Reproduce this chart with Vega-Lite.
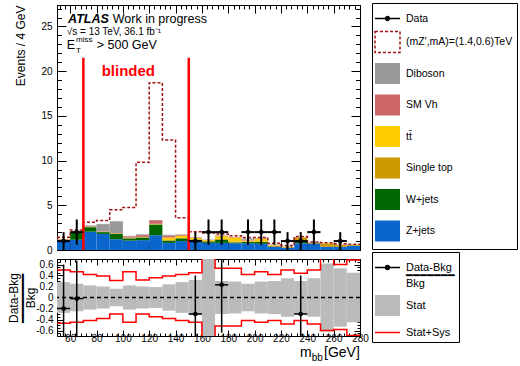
{
  "$schema": "https://vega.github.io/schema/vega-lite/v6.json",
  "background": "white",
  "padding": {"left": 7, "top": 2, "right": 0, "bottom": 0},
  "spacing": -5,
  "datasets": {
    "bkg": [
      {"lo":50,"hi":60,"p":"Z+jets","y0":0,"y1":1.00},{"lo":50,"hi":60,"p":"W+jets","y0":1.00,"y1":1.12},{"lo":50,"hi":60,"p":"Single top","y0":1.12,"y1":1.15},{"lo":50,"hi":60,"p":"tt̄","y0":1.15,"y1":1.18},{"lo":50,"hi":60,"p":"SM Vh","y0":1.18,"y1":1.23},{"lo":50,"hi":60,"p":"Diboson","y0":1.23,"y1":1.25},
      {"lo":60,"hi":70,"p":"Z+jets","y0":0,"y1":1.15},{"lo":60,"hi":70,"p":"W+jets","y0":1.15,"y1":1.93},{"lo":60,"hi":70,"p":"Single top","y0":1.93,"y1":1.95},{"lo":60,"hi":70,"p":"tt̄","y0":1.95,"y1":1.98},{"lo":60,"hi":70,"p":"SM Vh","y0":1.98,"y1":2.02},{"lo":60,"hi":70,"p":"Diboson","y0":2.02,"y1":2.04},
      {"lo":70,"hi":80,"p":"Z+jets","y0":0,"y1":2.05},{"lo":70,"hi":80,"p":"W+jets","y0":2.05,"y1":2.55},{"lo":70,"hi":80,"p":"Single top","y0":2.55,"y1":2.57},{"lo":70,"hi":80,"p":"tt̄","y0":2.57,"y1":2.59},{"lo":70,"hi":80,"p":"SM Vh","y0":2.59,"y1":2.65},{"lo":70,"hi":80,"p":"Diboson","y0":2.65,"y1":2.75},
      {"lo":80,"hi":90,"p":"Z+jets","y0":0,"y1":1.80},{"lo":80,"hi":90,"p":"W+jets","y0":1.80,"y1":2.00},{"lo":80,"hi":90,"p":"Single top","y0":2.00,"y1":2.02},{"lo":80,"hi":90,"p":"tt̄","y0":2.02,"y1":2.05},{"lo":80,"hi":90,"p":"SM Vh","y0":2.05,"y1":2.10},{"lo":80,"hi":90,"p":"Diboson","y0":2.10,"y1":2.90},
      {"lo":90,"hi":100,"p":"Z+jets","y0":0,"y1":1.20},{"lo":90,"hi":100,"p":"W+jets","y0":1.20,"y1":1.82},{"lo":90,"hi":100,"p":"Single top","y0":1.82,"y1":1.84},{"lo":90,"hi":100,"p":"tt̄","y0":1.84,"y1":1.86},{"lo":90,"hi":100,"p":"SM Vh","y0":1.86,"y1":1.91},{"lo":90,"hi":100,"p":"Diboson","y0":1.91,"y1":3.21},
      {"lo":100,"hi":110,"p":"Z+jets","y0":0,"y1":1.05},{"lo":100,"hi":110,"p":"W+jets","y0":1.05,"y1":1.30},{"lo":100,"hi":110,"p":"Single top","y0":1.30,"y1":1.33},{"lo":100,"hi":110,"p":"tt̄","y0":1.33,"y1":1.38},{"lo":100,"hi":110,"p":"SM Vh","y0":1.38,"y1":1.53},{"lo":100,"hi":110,"p":"Diboson","y0":1.53,"y1":1.58},
      {"lo":110,"hi":120,"p":"Z+jets","y0":0,"y1":1.10},{"lo":110,"hi":120,"p":"W+jets","y0":1.10,"y1":1.40},{"lo":110,"hi":120,"p":"Single top","y0":1.40,"y1":1.42},{"lo":110,"hi":120,"p":"tt̄","y0":1.42,"y1":1.47},{"lo":110,"hi":120,"p":"SM Vh","y0":1.47,"y1":1.67},{"lo":110,"hi":120,"p":"Diboson","y0":1.67,"y1":1.75},
      {"lo":120,"hi":130,"p":"Z+jets","y0":0,"y1":1.65},{"lo":120,"hi":130,"p":"W+jets","y0":1.65,"y1":2.85},{"lo":120,"hi":130,"p":"Single top","y0":2.85,"y1":2.88},{"lo":120,"hi":130,"p":"tt̄","y0":2.88,"y1":2.93},{"lo":120,"hi":130,"p":"SM Vh","y0":2.93,"y1":3.33},{"lo":120,"hi":130,"p":"Diboson","y0":3.33,"y1":3.35},
      {"lo":130,"hi":140,"p":"Z+jets","y0":0,"y1":0.80},{"lo":130,"hi":140,"p":"W+jets","y0":0.80,"y1":1.05},{"lo":130,"hi":140,"p":"Single top","y0":1.05,"y1":1.10},{"lo":130,"hi":140,"p":"tt̄","y0":1.10,"y1":1.40},{"lo":130,"hi":140,"p":"SM Vh","y0":1.40,"y1":1.60},{"lo":130,"hi":140,"p":"Diboson","y0":1.60,"y1":1.70},
      {"lo":140,"hi":150,"p":"Z+jets","y0":0,"y1":1.00},{"lo":140,"hi":150,"p":"W+jets","y0":1.00,"y1":1.30},{"lo":140,"hi":150,"p":"Single top","y0":1.30,"y1":1.35},{"lo":140,"hi":150,"p":"tt̄","y0":1.35,"y1":1.60},{"lo":140,"hi":150,"p":"SM Vh","y0":1.60,"y1":1.70},{"lo":140,"hi":150,"p":"Diboson","y0":1.70,"y1":1.75},
      {"lo":150,"hi":160,"p":"Z+jets","y0":0,"y1":0.95},{"lo":150,"hi":160,"p":"W+jets","y0":0.95,"y1":1.15},{"lo":150,"hi":160,"p":"Single top","y0":1.15,"y1":1.20},{"lo":150,"hi":160,"p":"tt̄","y0":1.20,"y1":1.35},{"lo":150,"hi":160,"p":"SM Vh","y0":1.35,"y1":1.40},{"lo":150,"hi":160,"p":"Diboson","y0":1.40,"y1":1.43},
      {"lo":160,"hi":170,"p":"Z+jets","y0":0,"y1":0.80},{"lo":160,"hi":170,"p":"W+jets","y0":0.80,"y1":0.95},{"lo":160,"hi":170,"p":"Single top","y0":0.95,"y1":1.00},{"lo":160,"hi":170,"p":"tt̄","y0":1.00,"y1":1.10},{"lo":160,"hi":170,"p":"SM Vh","y0":1.10,"y1":1.15},{"lo":160,"hi":170,"p":"Diboson","y0":1.15,"y1":1.17},
      {"lo":170,"hi":180,"p":"Z+jets","y0":0,"y1":0.80},{"lo":170,"hi":180,"p":"W+jets","y0":0.80,"y1":1.15},{"lo":170,"hi":180,"p":"Single top","y0":1.15,"y1":1.25},{"lo":170,"hi":180,"p":"tt̄","y0":1.25,"y1":1.55},{"lo":170,"hi":180,"p":"SM Vh","y0":1.55,"y1":1.60},{"lo":170,"hi":180,"p":"Diboson","y0":1.60,"y1":1.63},
      {"lo":180,"hi":190,"p":"Z+jets","y0":0,"y1":0.75},{"lo":180,"hi":190,"p":"W+jets","y0":0.75,"y1":0.85},{"lo":180,"hi":190,"p":"Single top","y0":0.85,"y1":0.95},{"lo":180,"hi":190,"p":"tt̄","y0":0.95,"y1":1.40},{"lo":180,"hi":190,"p":"SM Vh","y0":1.40,"y1":1.45},{"lo":180,"hi":190,"p":"Diboson","y0":1.45,"y1":1.47},
      {"lo":190,"hi":200,"p":"Z+jets","y0":0,"y1":0.75},{"lo":190,"hi":200,"p":"W+jets","y0":0.75,"y1":0.90},{"lo":190,"hi":200,"p":"Single top","y0":0.90,"y1":0.95},{"lo":190,"hi":200,"p":"tt̄","y0":0.95,"y1":1.05},{"lo":190,"hi":200,"p":"SM Vh","y0":1.05,"y1":1.15},{"lo":190,"hi":200,"p":"Diboson","y0":1.15,"y1":1.30},
      {"lo":200,"hi":210,"p":"Z+jets","y0":0,"y1":0.70},{"lo":200,"hi":210,"p":"W+jets","y0":0.70,"y1":0.90},{"lo":200,"hi":210,"p":"Single top","y0":0.90,"y1":0.95},{"lo":200,"hi":210,"p":"tt̄","y0":0.95,"y1":1.25},{"lo":200,"hi":210,"p":"SM Vh","y0":1.25,"y1":1.30},{"lo":200,"hi":210,"p":"Diboson","y0":1.30,"y1":1.32},
      {"lo":210,"hi":220,"p":"Z+jets","y0":0,"y1":0.35},{"lo":210,"hi":220,"p":"W+jets","y0":0.35,"y1":0.40},{"lo":210,"hi":220,"p":"Single top","y0":0.40,"y1":0.50},{"lo":210,"hi":220,"p":"tt̄","y0":0.50,"y1":0.55},{"lo":210,"hi":220,"p":"SM Vh","y0":0.55,"y1":0.60},{"lo":210,"hi":220,"p":"Diboson","y0":0.60,"y1":0.62},
      {"lo":220,"hi":230,"p":"Z+jets","y0":0,"y1":0.25},{"lo":220,"hi":230,"p":"W+jets","y0":0.25,"y1":0.27},{"lo":220,"hi":230,"p":"Single top","y0":0.27,"y1":0.32},{"lo":220,"hi":230,"p":"tt̄","y0":0.32,"y1":0.34},{"lo":220,"hi":230,"p":"SM Vh","y0":0.34,"y1":0.36},{"lo":220,"hi":230,"p":"Diboson","y0":0.36,"y1":0.38},
      {"lo":230,"hi":240,"p":"Z+jets","y0":0,"y1":0.75},{"lo":230,"hi":240,"p":"W+jets","y0":0.75,"y1":1.05},{"lo":230,"hi":240,"p":"Single top","y0":1.05,"y1":1.40},{"lo":230,"hi":240,"p":"SM Vh","y0":1.40,"y1":1.42},{"lo":230,"hi":240,"p":"Diboson","y0":1.42,"y1":1.43},
      {"lo":240,"hi":250,"p":"Z+jets","y0":0,"y1":0.70},{"lo":240,"hi":250,"p":"W+jets","y0":0.70,"y1":0.75},{"lo":240,"hi":250,"p":"Single top","y0":0.75,"y1":0.80},{"lo":240,"hi":250,"p":"SM Vh","y0":0.80,"y1":0.82},{"lo":240,"hi":250,"p":"Diboson","y0":0.82,"y1":0.83},
      {"lo":250,"hi":260,"p":"Z+jets","y0":0,"y1":0.35},{"lo":250,"hi":260,"p":"W+jets","y0":0.35,"y1":0.37},{"lo":250,"hi":260,"p":"Single top","y0":0.37,"y1":0.72},{"lo":250,"hi":260,"p":"tt̄","y0":0.72,"y1":0.74},{"lo":250,"hi":260,"p":"SM Vh","y0":0.74,"y1":0.75},
      {"lo":260,"hi":270,"p":"Z+jets","y0":0,"y1":0.35},{"lo":260,"hi":270,"p":"W+jets","y0":0.35,"y1":0.37},{"lo":260,"hi":270,"p":"Single top","y0":0.37,"y1":0.57},{"lo":260,"hi":270,"p":"tt̄","y0":0.57,"y1":0.59},{"lo":260,"hi":270,"p":"SM Vh","y0":0.59,"y1":0.61},{"lo":260,"hi":270,"p":"Diboson","y0":0.61,"y1":0.63},
      {"lo":270,"hi":280,"p":"Z+jets","y0":0,"y1":0.45},{"lo":270,"hi":280,"p":"W+jets","y0":0.45,"y1":0.50},{"lo":270,"hi":280,"p":"Single top","y0":0.50,"y1":0.55},{"lo":270,"hi":280,"p":"tt̄","y0":0.55,"y1":0.57},{"lo":270,"hi":280,"p":"SM Vh","y0":0.57,"y1":0.59},{"lo":270,"hi":280,"p":"Diboson","y0":0.59,"y1":0.60}
    ],
    "sig": [
      {"x":50,"v":1.42},{"x":60,"v":2.24},{"x":70,"v":3.1},{"x":80,"v":3.3},{"x":90,"v":4.5},{"x":100,"v":4.75},{"x":110,"v":9.8},{"x":120,"v":18.7},{"x":130,"v":12.3},{"x":140,"v":3.6},{"x":150,"v":2.05},{"x":160,"v":1.9},{"x":170,"v":1.8},{"x":180,"v":1.6},{"x":190,"v":1.4},{"x":200,"v":1.4},{"x":210,"v":0.75},{"x":220,"v":0.5},{"x":230,"v":1.5},{"x":240,"v":0.9},{"x":250,"v":0.8},{"x":260,"v":0.7},{"x":270,"v":0.65},{"x":280,"v":0.65}
    ],
    "obs": [
      {"c":55,"lo":50,"hi":60,"n":1,"elo":0,"ehi":2},
      {"c":65,"lo":60,"hi":70,"n":2,"elo":0.586,"ehi":3.414},
      {"c":155,"lo":150,"hi":160,"n":1,"elo":0,"ehi":2},
      {"c":165,"lo":160,"hi":170,"n":2,"elo":0.586,"ehi":3.414},
      {"c":175,"lo":170,"hi":180,"n":2,"elo":0.586,"ehi":3.414},
      {"c":195,"lo":190,"hi":200,"n":2,"elo":0.586,"ehi":3.414},
      {"c":205,"lo":200,"hi":210,"n":2,"elo":0.586,"ehi":3.414},
      {"c":215,"lo":210,"hi":220,"n":2,"elo":0.586,"ehi":3.414},
      {"c":225,"lo":220,"hi":230,"n":1,"elo":0,"ehi":2},
      {"c":235,"lo":230,"hi":240,"n":1,"elo":0,"ehi":2},
      {"c":245,"lo":240,"hi":250,"n":2,"elo":0.586,"ehi":3.414},
      {"c":265,"lo":260,"hi":270,"n":1,"elo":0,"ehi":2}
    ],
    "rat": [
      {"c":55,"lo":50,"hi":60,"r":-0.2,"elo":-1.0,"ehi":0.6},
      {"c":65,"lo":60,"hi":70,"r":-0.02,"elo":-0.71,"ehi":0.67},
      {"c":155,"lo":150,"hi":160,"r":-0.3,"elo":-1.0,"ehi":0.4},
      {"c":175,"lo":170,"hi":180,"r":0.23,"elo":-0.64,"ehi":1.1},
      {"c":235,"lo":230,"hi":240,"r":-0.3,"elo":-1.0,"ehi":0.4}
    ],
    "stat": [
      {"lo":50,"hi":60,"a":-0.28,"b":0.28,"k":"Stat"},{"lo":60,"hi":70,"a":-0.25,"b":0.25,"k":"Stat"},{"lo":70,"hi":80,"a":-0.22,"b":0.22,"k":"Stat"},{"lo":80,"hi":90,"a":-0.2,"b":0.2,"k":"Stat"},{"lo":90,"hi":100,"a":-0.16,"b":0.16,"k":"Stat"},{"lo":100,"hi":110,"a":-0.22,"b":0.22,"k":"Stat"},{"lo":110,"hi":120,"a":-0.2,"b":0.2,"k":"Stat"},{"lo":120,"hi":130,"a":-0.19,"b":0.19,"k":"Stat"},{"lo":130,"hi":140,"a":-0.24,"b":0.24,"k":"Stat"},{"lo":140,"hi":150,"a":-0.28,"b":0.28,"k":"Stat"},{"lo":150,"hi":160,"a":-0.32,"b":0.32,"k":"Stat"},{"lo":160,"hi":170,"a":-1.0,"b":1.0,"k":"Stat"},{"lo":170,"hi":180,"a":-0.3,"b":0.3,"k":"Stat"},{"lo":180,"hi":190,"a":-0.29,"b":0.29,"k":"Stat"},{"lo":190,"hi":200,"a":-0.25,"b":0.25,"k":"Stat"},{"lo":200,"hi":210,"a":-0.29,"b":0.29,"k":"Stat"},{"lo":210,"hi":220,"a":-0.3,"b":0.3,"k":"Stat"},{"lo":220,"hi":230,"a":-0.35,"b":0.35,"k":"Stat"},{"lo":230,"hi":240,"a":-0.3,"b":0.3,"k":"Stat"},{"lo":240,"hi":250,"a":-0.35,"b":0.35,"k":"Stat"},{"lo":250,"hi":260,"a":-0.62,"b":0.62,"k":"Stat"},{"lo":260,"hi":270,"a":-0.53,"b":0.53,"k":"Stat"},{"lo":270,"hi":280,"a":-0.45,"b":0.45,"k":"Stat"}
    ],
    "sys": [
      {"x":50,"up":0.5,"dn":-0.47},{"x":60,"up":0.47,"dn":-0.45},{"x":70,"up":0.42,"dn":-0.42},{"x":80,"up":0.39,"dn":-0.38},{"x":90,"up":0.31,"dn":-0.3},{"x":100,"up":0.47,"dn":-0.45},{"x":110,"up":0.32,"dn":-0.3},{"x":120,"up":0.36,"dn":-0.35},{"x":130,"up":0.39,"dn":-0.38},{"x":140,"up":0.42,"dn":-0.42},{"x":150,"up":0.45,"dn":-0.45},{"x":160,"up":1.0,"dn":-1.0},{"x":170,"up":0.53,"dn":-0.52},{"x":180,"up":0.53,"dn":-0.52},{"x":190,"up":0.42,"dn":-0.42},{"x":200,"up":0.47,"dn":-0.45},{"x":210,"up":0.42,"dn":-0.42},{"x":220,"up":0.5,"dn":-0.48},{"x":230,"up":0.44,"dn":-0.42},{"x":240,"up":0.5,"dn":-0.48},{"x":250,"up":0.8,"dn":-0.6},{"x":260,"up":0.6,"dn":-0.58},{"x":270,"up":0.68,"dn":-0.69},{"x":280,"up":0.68,"dn":-0.69}
    ]
  },
  "vconcat": [
    {
      "width": 303,
      "height": 245,
      "layer": [
        {
          "data": {"name": "bkg"},
          "mark": {"type": "bar", "clip": true},
          "encoding": {
            "x": {"field": "lo", "type": "quantitative", "scale": {"domain": [50, 280], "nice": false, "zero": false},
                  "axis": {"orient": "bottom", "values": [60,80,100,120,140,160,180,200,220,240,260,280], "labels": false, "tickSize": -8, "title": null, "domain": true}},
            "x2": {"field": "hi"},
            "y": {"field": "y1", "type": "quantitative", "scale": {"domain": [0, 27.4], "nice": false, "zero": false},
                  "axis": {"orient": "left", "values": [0,5,10,15,20,25], "tickSize": -9, "labelPadding": 14, "labelFlush": false, "title": "Events / 4 GeV", "titleAnchor": "end", "titlePadding": 13, "titleFontSize": 12, "domain": true}},
            "y2": {"field": "y0"},
            "color": {"field": "p", "type": "nominal",
                      "scale": {"domain": ["Data", "(mZ',mA)=(1.4,0.6)TeV", "Diboson", "SM Vh", "tt̄", "Single top", "W+jets", "Z+jets"],
                                "range": ["#000000", "transparent", "#999999", "#cc6666", "#ffcc00", "#cc9900", "#006600", "#0a66cc"]},
                      "legend": {"orient": "none", "legendX": 315, "legendY": -2, "title": null, "strokeColor": "#000", "padding": 4, "rowPadding": 4.5, "symbolSize": 441, "labelFontSize": 10.5, "labelOffset": 7, "labelColor": "#000",
                                 "encode": {
                                   "symbols": {"update": {
                                   "shape": {"signal": "datum.value === 'Data' ? 'M-1.19,0H1.19M-0.18,0A0.18,0.18,0,1,1,0.18,0A0.18,0.18,0,1,1,-0.18,0Z' : 'M-1.19,-1H1.19V1H-1.19Z'"},
                                   "stroke": {"signal": "datum.value === 'Data' ? '#000000' : (indexof(datum.value, 'TeV') >= 0 ? '#a01414' : 'transparent')"},
                                   "strokeDash": {"signal": "indexof(datum.value, 'TeV') >= 0 ? [3, 2] : [1, 0]"},
                                   "strokeWidth": {"value": 1.5}
                                 }}}}}
          }
        },
        {
          "data": {"name": "sig"},
          "mark": {"type": "line", "interpolate": "step-after", "color": "#a01414", "strokeDash": [3, 2], "strokeWidth": 1.5, "clip": true},
          "encoding": {
            "x": {"field": "x", "type": "quantitative", "scale": {"domain": [50, 280], "nice": false, "zero": false},
                  "axis": {"orient": "bottom", "values": [52,56,64,68,72,76,84,88,92,96,104,108,112,116,124,128,132,136,144,148,152,156,164,168,172,176,184,188,192,196,204,208,212,216,224,228,232,236,244,248,252,256,264,268,272,276], "labels": false, "tickSize": -4, "title": null}},
            "y": {"field": "v", "type": "quantitative", "scale": {"domain": [0, 27.4], "nice": false, "zero": false},
                  "axis": {"orient": "left", "values": [1,2,3,4,6,7,8,9,11,12,13,14,16,17,18,19,21,22,23,24,26,27], "labels": false, "tickSize": -4.5, "title": null}}
          }
        },
        {
          "data": {"values": [{"x": 70}, {"x": 150}]},
          "mark": {"type": "rule", "color": "#ff0000", "strokeWidth": 2.5},
          "encoding": {
            "x": {"field": "x", "type": "quantitative", "scale": {"domain": [50, 280], "nice": false, "zero": false},
                  "axis": {"orient": "top", "values": [60,80,100,120,140,160,180,200,220,240,260,280], "labels": false, "tickSize": -8, "title": null, "domain": true}},
            "y": {"datum": 0, "type": "quantitative", "scale": {"domain": [0, 27.4], "nice": false, "zero": false},
                  "axis": {"orient": "right", "values": [0,5,10,15,20,25], "labels": false, "tickSize": -9, "title": null, "domain": true}},
            "y2": {"datum": 21.5}
          }
        },
        {
          "data": {"name": "obs"},
          "mark": {"type": "rule", "color": "#000", "strokeWidth": 2},
          "encoding": {
            "x": {"field": "c", "type": "quantitative", "scale": {"domain": [50, 280], "nice": false, "zero": false},
                  "axis": {"orient": "top", "values": [52,56,64,68,72,76,84,88,92,96,104,108,112,116,124,128,132,136,144,148,152,156,164,168,172,176,184,188,192,196,204,208,212,216,224,228,232,236,244,248,252,256,264,268,272,276], "labels": false, "tickSize": -4, "title": null}},
            "y": {"field": "elo", "type": "quantitative", "scale": {"domain": [0, 27.4], "nice": false, "zero": false},
                  "axis": {"orient": "right", "values": [1,2,3,4,6,7,8,9,11,12,13,14,16,17,18,19,21,22,23,24,26,27], "labels": false, "tickSize": -4.5, "title": null}},
            "y2": {"field": "ehi"}
          }
        },
        {
          "data": {"name": "obs"},
          "mark": {"type": "rule", "color": "#000", "strokeWidth": 2},
          "encoding": {
            "x": {"field": "lo", "type": "quantitative", "scale": {"domain": [50, 280], "nice": false, "zero": false}, "axis": null},
            "x2": {"field": "hi"},
            "y": {"field": "n", "type": "quantitative", "scale": {"domain": [0, 27.4], "nice": false, "zero": false}, "axis": null}
          }
        },
        {
          "data": {"name": "obs"},
          "mark": {"type": "point", "filled": true, "color": "#000", "size": 22, "opacity": 1},
          "encoding": {
            "x": {"field": "c", "type": "quantitative", "scale": {"domain": [50, 280], "nice": false, "zero": false}, "axis": null},
            "y": {"field": "n", "type": "quantitative", "scale": {"domain": [0, 27.4], "nice": false, "zero": false}, "axis": null}
          }
        },
        {
          "data": {"values": [{"t": "ATLAS"}]},
          "mark": {"type": "text", "align": "left", "baseline": "alphabetic", "fontSize": 12.5, "fontWeight": "bold", "fontStyle": "italic", "color": "#000"},
          "encoding": {
            "x": {"datum": 58.4, "type": "quantitative", "scale": {"domain": [50, 280], "nice": false, "zero": false}, "axis": null},
            "y": {"datum": 25.35, "type": "quantitative", "scale": {"domain": [0, 27.4], "nice": false, "zero": false}, "axis": null},
            "text": {"field": "t"}
          }
        },
        {
          "data": {"values": [{"t": "Work in progress"}]},
          "mark": {"type": "text", "align": "left", "baseline": "alphabetic", "fontSize": 12.5, "color": "#000"},
          "encoding": {
            "x": {"datum": 92.3, "type": "quantitative", "scale": {"domain": [50, 280], "nice": false, "zero": false}, "axis": null},
            "y": {"datum": 25.35, "type": "quantitative", "scale": {"domain": [0, 27.4], "nice": false, "zero": false}, "axis": null},
            "text": {"field": "t"}
          }
        },
        {
          "data": {"values": [{"t": "√s = 13 TeV, 36.1 fb⁻¹"}]},
          "mark": {"type": "text", "align": "left", "baseline": "alphabetic", "fontSize": 10, "color": "#000"},
          "encoding": {
            "x": {"datum": 57.4, "type": "quantitative", "scale": {"domain": [50, 280], "nice": false, "zero": false}, "axis": null},
            "y": {"datum": 24.05, "type": "quantitative", "scale": {"domain": [0, 27.4], "nice": false, "zero": false}, "axis": null},
            "text": {"field": "t"}
          }
        },
        {
          "data": {"values": [{"t": "E"}]},
          "mark": {"type": "text", "align": "left", "baseline": "alphabetic", "fontSize": 12.5, "color": "#000"},
          "encoding": {
            "x": {"datum": 57.4, "type": "quantitative", "scale": {"domain": [50, 280], "nice": false, "zero": false}, "axis": null},
            "y": {"datum": 22.45, "type": "quantitative", "scale": {"domain": [0, 27.4], "nice": false, "zero": false}, "axis": null},
            "text": {"field": "t"}
          }
        },
        {
          "data": {"values": [{"t": "miss"}]},
          "mark": {"type": "text", "align": "left", "baseline": "alphabetic", "fontSize": 8, "color": "#000"},
          "encoding": {
            "x": {"datum": 64.4, "type": "quantitative", "scale": {"domain": [50, 280], "nice": false, "zero": false}, "axis": null},
            "y": {"datum": 23.23, "type": "quantitative", "scale": {"domain": [0, 27.4], "nice": false, "zero": false}, "axis": null},
            "text": {"field": "t"}
          }
        },
        {
          "data": {"values": [{"t": "T"}]},
          "mark": {"type": "text", "align": "left", "baseline": "alphabetic", "fontSize": 8, "color": "#000"},
          "encoding": {
            "x": {"datum": 64.4, "type": "quantitative", "scale": {"domain": [50, 280], "nice": false, "zero": false}, "axis": null},
            "y": {"datum": 22.07, "type": "quantitative", "scale": {"domain": [0, 27.4], "nice": false, "zero": false}, "axis": null},
            "text": {"field": "t"}
          }
        },
        {
          "data": {"values": [{"t": "> 500 GeV"}]},
          "mark": {"type": "text", "align": "left", "baseline": "alphabetic", "fontSize": 12.5, "color": "#000"},
          "encoding": {
            "x": {"datum": 80.15, "type": "quantitative", "scale": {"domain": [50, 280], "nice": false, "zero": false}, "axis": null},
            "y": {"datum": 22.45, "type": "quantitative", "scale": {"domain": [0, 27.4], "nice": false, "zero": false}, "axis": null},
            "text": {"field": "t"}
          }
        },
        {
          "data": {"values": [{"t": "blinded"}]},
          "mark": {"type": "text", "align": "left", "baseline": "alphabetic", "fontSize": 15, "fontWeight": "bold", "color": "#ff0000"},
          "encoding": {
            "x": {"datum": 83.9, "type": "quantitative", "scale": {"domain": [50, 280], "nice": false, "zero": false}, "axis": null},
            "y": {"datum": 19.46, "type": "quantitative", "scale": {"domain": [0, 27.4], "nice": false, "zero": false}, "axis": null},
            "text": {"field": "t"}
          }
        }
      ],
      "resolve": {"axis": {"x": "independent", "y": "independent"}}
    },
    {
      "width": 303,
      "height": 77,
      "layer": [
        {
          "data": {"name": "stat"},
          "mark": {"type": "bar", "clip": true},
          "encoding": {
            "x": {"field": "lo", "type": "quantitative", "scale": {"domain": [50, 280], "nice": false, "zero": false},
                  "axis": {"orient": "bottom", "values": [60,80,100,120,140,160,180,200,220,240,260,280], "tickSize": -6, "labelPadding": 3, "labelFlush": false, "labelOverlap": false, "title": null, "domain": true}},
            "x2": {"field": "hi"},
            "y": {"field": "a", "type": "quantitative", "scale": {"domain": [-0.7, 0.7], "nice": false, "zero": false},
                  "axis": {"orient": "left", "values": [-0.6,-0.4,-0.2,0,0.2,0.4,0.6], "tickSize": -6, "labelPadding": 10, "labelFlush": false, "labelOverlap": false,
                           "labelExpr": "datum.value === 0 ? '0' : replace(format(datum.value, '.1f'), '−', '-')",
                           "title": ["Data-Bkg", "━━━━━━━", "Bkg"], "titleFontSize": 12, "titleLineHeight": 8.4, "titlePadding": -2, "domain": true}},
            "y2": {"field": "b"},
            "color": {"field": "k", "type": "nominal",
                      "scale": {"domain": ["ratio", "Stat", "Stat+Sys"], "range": ["#000000", "#bbbbbb", "transparent"]},
                      "legend": {"orient": "none", "legendX": 315, "legendY": -7, "title": null, "strokeColor": "#000", "padding": 4, "rowPadding": 2, "symbolSize": 441, "labelFontSize": 11, "labelOffset": 7, "labelColor": "#000",
                                 "labelExpr": "datum.label === 'ratio' ? ['Data-Bkg', '━━━━━━━', '    Bkg'] : (datum.label === 'Stat+Sys' ? 'Stat+Sys                     ' : datum.label)",
                                 "encode": {
                                   "labels": {"update": {"lineHeight": {"value": 8.4}}},
                                   "symbols": {"update": {
                                   "shape": {"signal": "datum.value === 'Stat' ? 'M-1.19,-1H1.19V1H-1.19Z' : (datum.value === 'ratio' ? 'M-1.19,0H1.19M-0.18,0A0.18,0.18,0,1,1,0.18,0A0.18,0.18,0,1,1,-0.18,0Z' : 'M-1.19,0H1.19')"},
                                   "stroke": {"signal": "datum.value === 'Stat' ? 'transparent' : (datum.value === 'ratio' ? '#000000' : '#ff0000')"},
                                   "strokeWidth": {"value": 1.5}
                                 }}}}}
          }
        },
        {
          "data": {"name": "sys"},
          "mark": {"type": "line", "interpolate": "step-after", "color": "#ff0000", "strokeWidth": 1.5, "clip": true},
          "encoding": {
            "x": {"field": "x", "type": "quantitative", "scale": {"domain": [50, 280], "nice": false, "zero": false},
                  "axis": {"orient": "bottom", "values": [52,56,64,68,72,76,84,88,92,96,104,108,112,116,124,128,132,136,144,148,152,156,164,168,172,176,184,188,192,196,204,208,212,216,224,228,232,236,244,248,252,256,264,268,272,276], "labels": false, "tickSize": -3, "title": null}},
            "y": {"field": "up", "type": "quantitative", "scale": {"domain": [-0.7, 0.7], "nice": false, "zero": false},
                  "axis": {"orient": "left", "values": [-0.65,-0.55,-0.5,-0.45,-0.35,-0.3,-0.25,-0.15,-0.1,-0.05,0.05,0.1,0.15,0.25,0.3,0.35,0.45,0.5,0.55,0.65], "labels": false, "tickSize": -3, "title": null}}
          }
        },
        {
          "data": {"name": "sys"},
          "mark": {"type": "line", "interpolate": "step-after", "color": "#ff0000", "strokeWidth": 1.5, "clip": true},
          "encoding": {
            "x": {"field": "x", "type": "quantitative", "scale": {"domain": [50, 280], "nice": false, "zero": false},
                  "axis": {"orient": "top", "values": [60,80,100,120,140,160,180,200,220,240,260,280], "labels": false, "tickSize": -6, "title": null, "domain": true}},
            "y": {"field": "dn", "type": "quantitative", "scale": {"domain": [-0.7, 0.7], "nice": false, "zero": false},
                  "axis": {"orient": "right", "values": [-0.6,-0.4,-0.2,0,0.2,0.4,0.6], "labels": false, "tickSize": -6, "title": null, "domain": true}}
          }
        },
        {
          "data": {"values": [{"v": 0}]},
          "mark": {"type": "rule", "color": "#000", "strokeWidth": 1.5, "strokeDash": [4, 3]},
          "encoding": {
            "y": {"field": "v", "type": "quantitative", "scale": {"domain": [-0.7, 0.7], "nice": false, "zero": false}, "axis": null}
          }
        },
        {
          "data": {"name": "rat"},
          "mark": {"type": "rule", "color": "#000", "strokeWidth": 1.5, "clip": true},
          "encoding": {
            "x": {"field": "c", "type": "quantitative", "scale": {"domain": [50, 280], "nice": false, "zero": false},
                  "axis": {"orient": "top", "values": [52,56,64,68,72,76,84,88,92,96,104,108,112,116,124,128,132,136,144,148,152,156,164,168,172,176,184,188,192,196,204,208,212,216,224,228,232,236,244,248,252,256,264,268,272,276], "labels": false, "tickSize": -3, "title": null}},
            "y": {"field": "elo", "type": "quantitative", "scale": {"domain": [-0.7, 0.7], "nice": false, "zero": false},
                  "axis": {"orient": "right", "values": [-0.65,-0.55,-0.5,-0.45,-0.35,-0.3,-0.25,-0.15,-0.1,-0.05,0.05,0.1,0.15,0.25,0.3,0.35,0.45,0.5,0.55,0.65], "labels": false, "tickSize": -3, "title": null}},
            "y2": {"field": "ehi"}
          }
        },
        {
          "data": {"name": "rat"},
          "mark": {"type": "rule", "color": "#000", "strokeWidth": 1.5, "clip": true},
          "encoding": {
            "x": {"field": "lo", "type": "quantitative", "scale": {"domain": [50, 280], "nice": false, "zero": false}, "axis": null},
            "x2": {"field": "hi"},
            "y": {"field": "r", "type": "quantitative", "scale": {"domain": [-0.7, 0.7], "nice": false, "zero": false}, "axis": null}
          }
        },
        {
          "data": {"name": "rat"},
          "mark": {"type": "point", "filled": true, "color": "#000", "size": 22, "opacity": 1},
          "encoding": {
            "x": {"field": "c", "type": "quantitative", "scale": {"domain": [50, 280], "nice": false, "zero": false}, "axis": null},
            "y": {"field": "r", "type": "quantitative", "scale": {"domain": [-0.7, 0.7], "nice": false, "zero": false}, "axis": null}
          }
        },
        {
          "data": {"values": [{"t": "m"}]},
          "mark": {"type": "text", "align": "left", "baseline": "alphabetic", "fontSize": 14, "color": "#000"},
          "encoding": {
            "x": {"datum": 234.45, "type": "quantitative", "scale": {"domain": [50, 280], "nice": false, "zero": false}, "axis": null},
            "y": {"datum": -1.076, "type": "quantitative", "scale": {"domain": [-0.7, 0.7], "nice": false, "zero": false}, "axis": null},
            "text": {"field": "t"}
          }
        },
        {
          "data": {"values": [{"t": "bb"}]},
          "mark": {"type": "text", "align": "left", "baseline": "alphabetic", "fontSize": 10, "color": "#000"},
          "encoding": {
            "x": {"datum": 243.3, "type": "quantitative", "scale": {"domain": [50, 280], "nice": false, "zero": false}, "axis": null},
            "y": {"datum": -1.155, "type": "quantitative", "scale": {"domain": [-0.7, 0.7], "nice": false, "zero": false}, "axis": null},
            "text": {"field": "t"}
          }
        },
        {
          "data": {"values": [{"t": "[GeV]"}]},
          "mark": {"type": "text", "align": "left", "baseline": "alphabetic", "fontSize": 14, "color": "#000"},
          "encoding": {
            "x": {"datum": 252.7, "type": "quantitative", "scale": {"domain": [50, 280], "nice": false, "zero": false}, "axis": null},
            "y": {"datum": -1.076, "type": "quantitative", "scale": {"domain": [-0.7, 0.7], "nice": false, "zero": false}, "axis": null},
            "text": {"field": "t"}
          }
        }
      ],
      "resolve": {"axis": {"x": "independent", "y": "independent"}}
    }
  ],
  "resolve": {"scale": {"color": "independent"}},
  "config": {
    "font": "Liberation Sans",
    "view": {"stroke": "#000", "strokeWidth": 1},
    "axis": {"grid": false, "domain": false, "domainColor": "#000", "labelFont": "Liberation Sans", "labelFontSize": 10, "labelColor": "#000", "tickColor": "#000", "tickWidth": 1, "titleFont": "Liberation Sans", "titleFontWeight": "normal", "titleColor": "#000", "zindex": 1},
    "legend": {"labelFont": "Liberation Sans", "labelColor": "#000"},
    "text": {"font": "Liberation Sans"}
  }
}
